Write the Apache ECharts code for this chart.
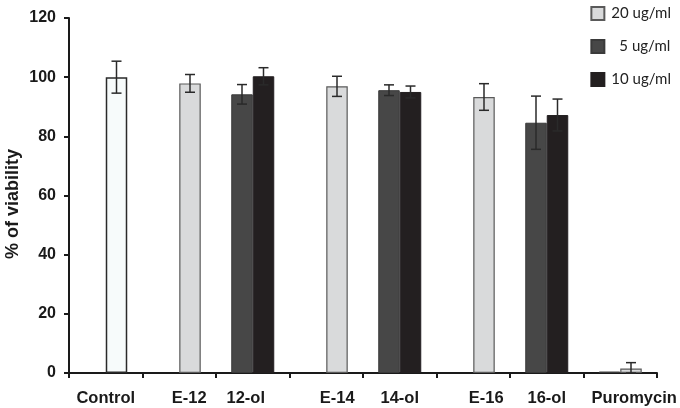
<!DOCTYPE html>
<html><head><meta charset="utf-8">
<script src="https://cdn.jsdelivr.net/npm/echarts@6/dist/echarts.min.js"></script>
<style>html,body{margin:0;padding:0;background:#fff}#c{width:680px;height:408px}</style>
</head><body><div id="c"></div>
<script>
var categories = ['Control','E-12','12-ol','E-14','14-ol','E-16','16-ol','Puromycin'];
var control    = [100, null, null, null, null, null, null, null];
var controlErr = [5.4, null, null, null, null, null, null, null];
var v20  = [null, 97.9, null, 96.9, null, 93.3, null, 1.5];
var e20  = [null, 3.0,  null, 3.4,  null, 4.5,  null, 2.0];
var v5   = [null, null, 94.2, null, 95.6, null, 84.6, 0.5];
var e5   = [null, null, 3.3,  null, 1.8,  null, 9.0,  null];
var v10  = [null, null, 100.3,null, 95.0, null, 87.2, null];
var e10  = [null, null, 2.9,  null, 2.0,  null, 5.4,  null];
var yTicks = [0, 20, 40, 60, 80, 100, 120];

// label horizontal shift (style only, px)
var labelShift = [0, 10, -7, 11, 0, 13, 0, 14];

var BW = 21.5;
function errData(vals, errs, slot){
  var out = [];
  for (var i=0;i<vals.length;i++){ if (vals[i]!=null && errs[i]!=null) out.push([i, vals[i], errs[i], slot]); }
  return out;
}
var allErr = [].concat(errData(control, controlErr, 1), errData(v20, e20, 1), errData(v5, e5, -1), errData(v10, e10, 1));

var xFont = {fontFamily:'Liberation Sans', fontWeight:'bold', fontSize:16.5, color:'#1a1a1a'};
var rich = {};
labelShift.forEach(function(s, i){
  rich['s'+i] = Object.assign({padding: s>=0 ? [0,0,0,2*s] : [0,-2*s,0,0]}, xFont);
});

var legFont = {fontFamily:'Lato', fontSize:15, color:'#222'};
var chart = echarts.init(document.getElementById('c'), null, {renderer:'canvas'});
chart.setOption({
  animation:false,
  grid:{left:69, right:23, top:18, bottom:35, containLabel:false, outerBoundsMode:'none'},
  legend:{
    orient:'vertical', right:4, top:1, itemWidth:13, itemHeight:13, itemGap:18,
    icon:'rect',
    data:['20 ug/ml','5 ug/ml','10 ug/ml'],
    formatter:function(n){ return n==='5 ug/ml' ? '{p|5 ug/ml}' : n; },
    textStyle:Object.assign({padding:[0,0,0,2], rich:{p:Object.assign({padding:[0,0,0,8]}, legFont)}}, legFont)
  },
  xAxis:{
    type:'category', data:categories,
    axisLine:{lineStyle:{color:'#1a1a1a', width:2}},
    axisTick:{show:true, interval:0, length:5, lineStyle:{color:'#1a1a1a', width:2}},
    axisLabel:Object.assign({margin:17, interval:0, hideOverlap:false, rich:rich,
      formatter:function(v, i){ return '{s'+i+'|'+v+'}'; }}, xFont)
  },
  yAxis:{
    type:'value', min:0, max:120, interval:20,
    name:'% of viability', nameLocation:'middle', nameGap:47, nameMoveOverlap:false,
    nameTextStyle:{fontFamily:'Liberation Sans', fontWeight:'bold', fontSize:18, color:'#1a1a1a', padding:[0,17,0,0]},
    axisLine:{show:true, lineStyle:{color:'#1a1a1a', width:2}},
    axisTick:{show:true, length:5, lineStyle:{color:'#1a1a1a', width:2}},
    splitLine:{show:false},
    axisLabel:{fontFamily:'Liberation Sans', fontWeight:'bold', fontSize:16, color:'#1a1a1a', margin:13,
      formatter:function(v){return yTicks.indexOf(v)>=0? String(v):'';}}
  },
  series:[
    {name:'5 ug/ml', type:'bar', stack:'A', data:v5, barWidth:BW, barGap:'0%',
     itemStyle:{color:'#474747', borderColor:'#3a3a3a', borderWidth:1}},
    {name:'Control', type:'bar', stack:'B', data:control, barWidth:BW,
     itemStyle:{color:'#f7fbfb', borderColor:'#2a2a2a', borderWidth:1.5}},
    {name:'20 ug/ml', type:'bar', stack:'B', data:v20, barWidth:BW,
     itemStyle:{color:'#d9dadb', borderColor:'#5a5a5a', borderWidth:1.2}},
    {name:'10 ug/ml', type:'bar', stack:'B', data:v10, barWidth:BW,
     itemStyle:{color:'#231f20', borderColor:'#231f20', borderWidth:1}},
    {name:'err', type:'custom', data:allErr, z:10,
     renderItem:function(params, api){
       var i = api.value(0), v = api.value(1), e = api.value(2), slot = api.value(3);
       var off = slot*BW/2;
       var hi = api.coord([i, v+e]), lo = api.coord([i, Math.max(v-e,0)]);
       var x = hi[0]+off, cap = 5;
       var st = {stroke:'#2a2a2a', lineWidth:1.5};
       return {type:'group', children:[
         {type:'line', shape:{x1:x, y1:hi[1], x2:x, y2:lo[1]}, style:st},
         {type:'line', shape:{x1:x-cap, y1:hi[1], x2:x+cap, y2:hi[1]}, style:st},
         {type:'line', shape:{x1:x-cap, y1:lo[1], x2:x+cap, y2:lo[1]}, style:st}
       ]};
     }}
  ]
});
</script></body></html>
